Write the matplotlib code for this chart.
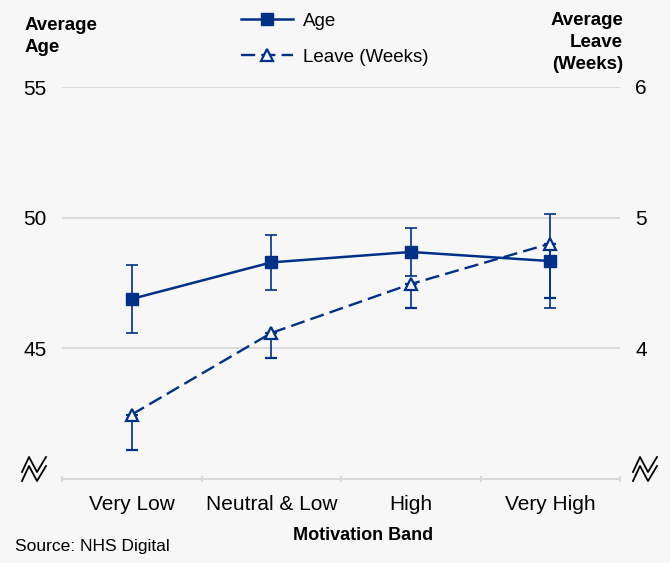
import matplotlib.pyplot as plt
from matplotlib.lines import Line2D
plt.rcParams['font.family'] = ['Liberation Sans', 'DejaVu Sans']

bands = ['Very Low', 'Neutral & Low', 'High', 'Very High']
age = [46.88, 48.28, 48.68, 48.33]
age_err = [1.30, 1.05, 0.92, 1.80]
leave = [3.49, 4.115, 4.49, 4.80]
leave_err_low = [0.27, 0.19, 0.18, 0.42]

blue = '#003087'
bg = '#F7F7F7'
grid = '#D9D9D9'

fig = plt.figure(figsize=(6.7, 5.63), dpi=100, facecolor=bg)
ax = fig.add_axes([62/670, 1-478.5/563, (620-62)/670, (478.5-87)/563])
ax.set_facecolor(bg)
ax2 = ax.twinx()

x = list(range(len(bands)))
ax.errorbar(x, age, yerr=age_err, color=blue, lw=1.8, marker='s', ms=8.5,
            elinewidth=1.2, capsize=4.5, capthick=1.2, zorder=3)
ax2.errorbar(x, leave, yerr=[leave_err_low, [0]*len(leave)], color=blue, lw=1.7,
             dashes=(6, 2.6), marker='^', ms=8, mfc=bg, mew=1.6,
             elinewidth=1.2, capsize=4.5, capthick=1.2, zorder=3)

ax.set_xlim(-0.5, 3.5)
ax.set_ylim(40, 55)
ax2.set_ylim(3, 6)
ax.set_yticks([45, 50, 55])
ax2.set_yticks([4, 5, 6])
for yv in [45, 50, 55]:
    ax.axhline(yv, color=grid, lw=1.3, zorder=0)

ax.set_xticks(x)
ax.set_xticklabels(bands, fontsize=15)
ax.set_xticks([-0.5, 0.5, 1.5, 2.5, 3.5], minor=True)
ax.tick_params(axis='x', which='major', length=0, pad=12)
ax.tick_params(axis='x', which='minor', length=5, color=grid, width=1.3, direction='inout')
ax.tick_params(axis='y', length=0, pad=11, labelsize=15)
ax2.tick_params(axis='y', length=0, pad=11, labelsize=15)

for a in (ax, ax2):
    for s in ['top', 'left', 'right']:
        a.spines[s].set_visible(False)
    a.spines['bottom'].set_color(grid)
    a.spines['bottom'].set_linewidth(1.3)

# axis titles
fig.text(25/670, 1-17/563, 'Average\nAge', fontsize=13.5, fontweight='bold',
         ha='left', va='top', linespacing=1.4)
fig.text(623/670, 1-12/563, 'Average\nLeave\n(Weeks)', fontsize=13.5, fontweight='bold',
         ha='right', va='top', linespacing=1.4)
fig.text(363/670, 1-535/563, 'Motivation Band', fontsize=13, fontweight='bold',
         ha='center', va='center')
fig.text(15/670, 1-546/563, 'Source: NHS Digital', fontsize=12.5, ha='left', va='center')

# legend
h1 = Line2D([], [], color=blue, lw=1.8, marker='s', ms=8.5)
h2 = Line2D([], [], color=blue, lw=1.7, dashes=(6, 2.6), marker='^', ms=8, mfc=bg, mew=1.6)
fig.legend([h1, h2], ['Age', 'Leave (Weeks)'], loc='upper left',
           bbox_to_anchor=(224/670, 1+4/563), frameon=False, fontsize=13.5,
           handlelength=2.8, handletextpad=0.5, labelspacing=1.0)

# axis break symbols
for dx in (0, 611):
    for dy in (0, 9):
        xs = [22+dx, 29+dx, 37+dx, 46+dx]
        ys = [472+dy, 457+dy, 472+dy, 457+dy]
        fig.add_artist(Line2D([v/670 for v in xs], [1-v/563 for v in ys],
                              color='black', lw=1.3, transform=fig.transFigure))

fig.savefig('out.png', dpi=100, facecolor=bg)
